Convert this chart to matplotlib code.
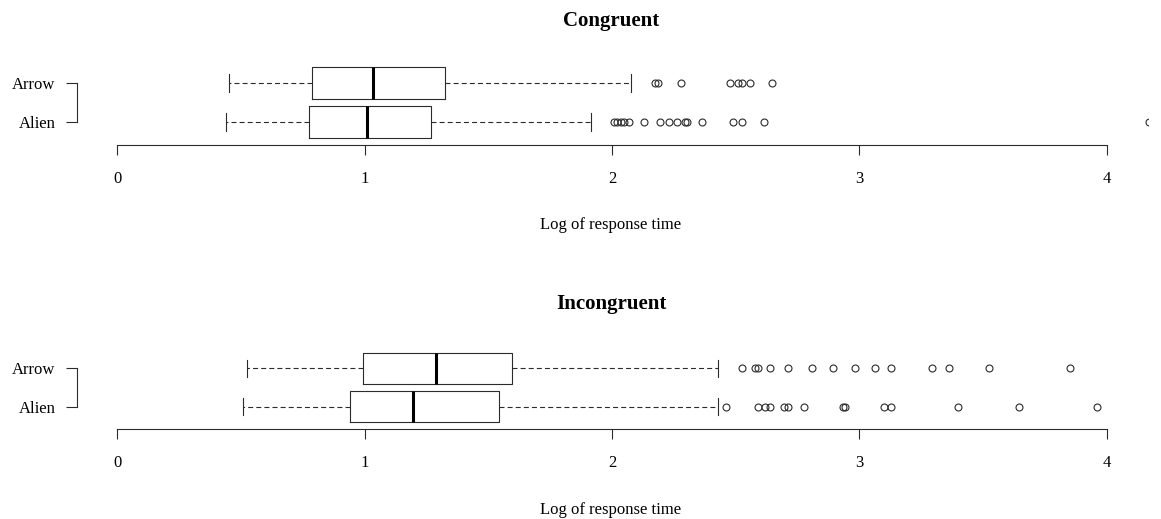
import matplotlib
matplotlib.use("Agg")
import matplotlib.pyplot as plt

# five-number summaries: whisker low, q1, median, q3, whisker high
cong_arrow = [0.453, 0.789, 1.032, 1.326, 2.076]
cong_alien = [0.440, 0.777, 1.009, 1.268, 1.915]
incong_arrow = [0.524, 0.993, 1.289, 1.595, 2.430]
incong_alien = [0.508, 0.939, 1.194, 1.544, 2.430]

# outliers beyond the whiskers
cong_arrow_out = [2.175, 2.185, 2.28, 2.478, 2.511, 2.525, 2.558, 2.646]
cong_alien_out = [2.010, 2.022, 2.036, 2.049, 2.067, 2.131, 2.195, 2.229,
                  2.262, 2.295, 2.305, 2.363, 2.491, 2.525, 2.615, 4.17]
incong_arrow_out = [2.525, 2.579, 2.592, 2.639, 2.713, 2.810, 2.892, 2.983,
                    3.064, 3.128, 3.293, 3.363, 3.526, 3.852]
incong_alien_out = [2.461, 2.592, 2.620, 2.639, 2.696, 2.710, 2.777, 2.933,
                    2.943, 3.098, 3.127, 3.397, 3.647, 3.960]

groups = ["Alien", "Arrow"]
panels = ["Congruent", "Incongruent"]
xticks = [0, 1, 2, 3, 4]
xlabel = "Log of response time"

plt.rcParams["font.family"] = ["Liberation Serif", "DejaVu Serif"]
INK = "#2b2b2b"

fig = plt.figure(figsize=(11.61, 5.19), dpi=100)
W, H = 1161.0, 519.0

def stats(five, out, name):
    lo, q1, med, q3, hi = five
    return dict(whislo=lo, q1=q1, med=med, q3=q3, whishi=hi, fliers=out, label=name)

panel_data = [
    [stats(cong_alien, cong_alien_out, "Alien"), stats(cong_arrow, cong_arrow_out, "Arrow")],
    [stats(incong_alien, incong_alien_out, "Alien"), stats(incong_arrow, incong_arrow_out, "Arrow")],
]

# pixel layout of each panel: (axis line y, px per row, title pad)
layout = [(145.0, 39.0, 24.5), (429.3, 38.3, 26.0)]
ymin, ymax = 0.41, 2.6
x0_px, px_per_unit = 117.3, 247.35
xmax = 4.165
text_x = (611 - x0_px) / (xmax * px_per_unit)  # centre of titles and labels

for title, data, (axis_y, row_px, tpad) in zip(panels, panel_data, layout):
    height_px = (ymax - ymin) * row_px
    ax = fig.add_axes([x0_px / W, (H - axis_y) / H,
                       xmax * px_per_unit / W, height_px / H])
    ax.bxp(data, orientation="horizontal", widths=0.8, capwidths=0.45,
           boxprops=dict(color=INK, linewidth=0.8),
           whiskerprops=dict(color=INK, linewidth=0.8, linestyle=(0, (4.5, 2.8))),
           capprops=dict(color=INK, linewidth=0.8),
           medianprops=dict(color="black", linewidth=2.2),
           flierprops=dict(marker="o", markerfacecolor="none", markeredgecolor=INK,
                           markersize=5, markeredgewidth=0.8))
    ax.set_xlim(0, xmax)
    ax.set_ylim(ymin, ymax)

    for s in ["top", "right"]:
        ax.spines[s].set_visible(False)
    ax.spines["bottom"].set_bounds(0, 4)
    ax.spines["left"].set_bounds(1, 2)
    ax.spines["left"].set_position(("outward", 28.8))
    for s in ["bottom", "left"]:
        ax.spines[s].set_color(INK)
        ax.spines[s].set_linewidth(0.8)

    ax.set_xticks(xticks)
    ax.set_xticklabels([str(t) for t in xticks])
    ax.set_yticks([1, 2])
    ax.set_yticklabels(groups)
    ax.tick_params(axis="x", length=7.5, width=0.8, color=INK, pad=11, labelsize=12)
    ax.tick_params(axis="y", length=7.6, width=0.8, color=INK, pad=8, labelsize=12)

    ax.set_xlabel(xlabel, fontsize=12, labelpad=22)
    ax.xaxis.label.set_x(text_x)
    t = ax.set_title(title, fontsize=15, fontweight="bold", pad=tpad)
    t.set_x(text_x)

fig.savefig("out.png", dpi=100, facecolor="white")
